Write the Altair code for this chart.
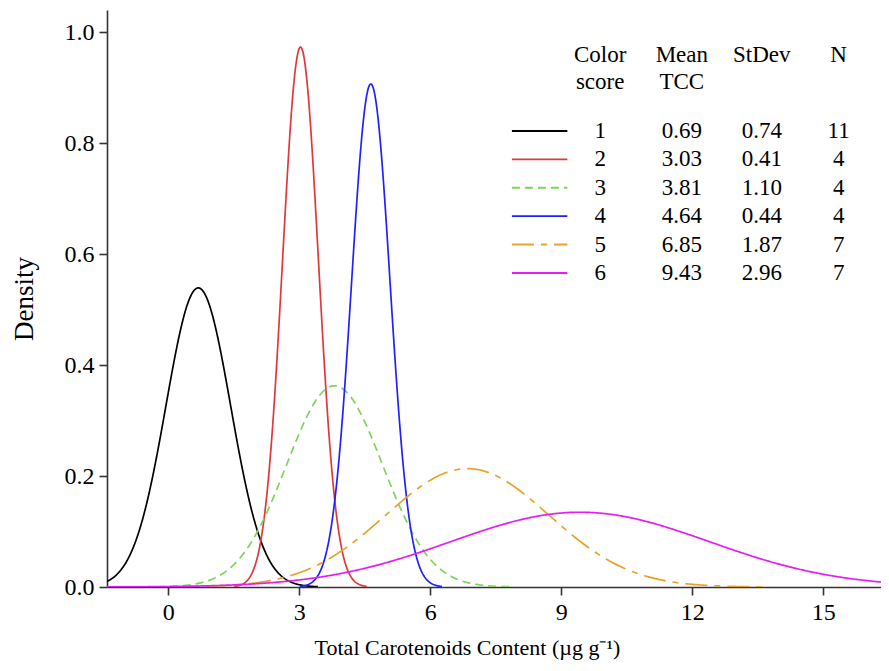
import altair as alt
import numpy as np
import pandas as pd

scores = ["1", "2", "3", "4", "5", "6"]
mean_tcc = [0.69, 3.03, 3.81, 4.64, 6.85, 9.43]
stdev = [0.74, 0.41, 1.10, 0.44, 1.87, 2.96]
n_obs = [11, 4, 4, 4, 7, 7]

colors = ["#000000", "#E0383A", "#7ED35C", "#2020FF", "#E8A22A", "#E21EF4"]
dashes = [[1, 0], [1, 0], [8, 5], [1, 0], [22, 7, 6, 7], [1, 0]]

x_ticks = [0, 3, 6, 9, 12, 15]
y_ticks = [0.0, 0.2, 0.4, 0.6, 0.8, 1.0]

XMIN, XMAX = -1.4, 16.32
YMIN, YMAX = 0.0, 1.04
FONT = "Liberation Serif"

# sample grid of x positions for each normal curve (mean +/- 3.7 sd, clipped to the axis)
rows = []
for s, m, sd in zip(scores, mean_tcc, stdev):
    lo, hi = max(XMIN, m - 3.7 * sd), min(XMAX, m + 3.7 * sd)
    for xv in np.linspace(lo, hi, 300):
        rows.append({"score": s, "x": float(xv), "mean": m, "sd": sd})
curves = pd.DataFrame(rows)

xs = alt.Scale(domain=[XMIN, XMAX], nice=False, zero=False)
ys = alt.Scale(domain=[YMIN, YMAX], nice=False, zero=False)
col = alt.Color("score:N", scale=alt.Scale(domain=scores, range=colors), legend=None)
dash = alt.StrokeDash("score:N", scale=alt.Scale(domain=scores, range=dashes), legend=None)

lines = alt.Chart(curves).transform_calculate(
    density="exp(-0.5*pow((datum.x-datum.mean)/datum.sd,2))/(datum.sd*sqrt(2*PI))"
).mark_line(strokeWidth=1.7, clip=True).encode(
    x=alt.X("x:Q", scale=xs,
            axis=alt.Axis(values=x_ticks, format="d", title="Total Carotenoids Content (µg g⁻¹)",
                          titleX=360, titleAlign="center", titlePadding=13)),
    y=alt.Y("density:Q", scale=ys,
            axis=alt.Axis(values=y_ticks, format=".1f", title="Density", titlePadding=26)),
    color=col, strokeDash=dash, detail="score:N",
)

# ---- legend table (positions in data units of the main axes) ----
col_x = [9.89, 11.76, 13.59, 15.35]
row_y0, row_dy = 0.822, 0.0512
sample_x1, sample_x2 = 7.87, 9.14

leg = pd.DataFrame({
    "score": scores,
    "x1": [sample_x1] * 6,
    "x2": [sample_x2] * 6,
    "y": [row_y0 - i * row_dy for i in range(6)],
})
legend_lines = alt.Chart(leg).mark_rule(strokeWidth=1.9).encode(
    x="x1:Q", x2="x2:Q", y="y:Q", color=col, strokeDash=dash,
)

cells = []
for i, (s, m, sd, n) in enumerate(zip(scores, mean_tcc, stdev, n_obs)):
    y = row_y0 - i * row_dy
    for cx, t in zip(col_x, [s, f"{m:.2f}", f"{sd:.2f}", str(n)]):
        cells.append({"x": cx, "y": y, "t": t})
headers = [("Color", "score"), ("Mean", "TCC"), ("StDev", ""), ("N", "")]
for cx, (h1, h2) in zip(col_x, headers):
    cells.append({"x": cx, "y": 0.9586, "t": h1})
    if h2:
        cells.append({"x": cx, "y": 0.910, "t": h2})
table = alt.Chart(pd.DataFrame(cells)).mark_text(
    font=FONT, fontSize=23, color="#000000", align="center", baseline="middle"
).encode(x="x:Q", y="y:Q", text="t:N")

chart = alt.layer(lines, legend_lines, table).properties(
    width=774, height=577,
    autosize=alt.AutoSizeParams(type="none"),
    padding={"left": 99, "top": 2, "right": 0, "bottom": 76},
).configure_view(stroke=None).configure_axis(
    grid=False, labelFont=FONT, titleFont=FONT, labelFontSize=24,
    titleFontWeight="normal", labelColor="#000000", titleColor="#000000",
    domainColor="#333333", tickColor="#333333", domainWidth=1.6, tickWidth=1.6,
    tickSize=8, labelPadding=5,
).configure_axisX(titleFontSize=22).configure_axisY(titleFontSize=27)

chart.save("out.html", embed_options={"renderer": "svg", "actions": False})
